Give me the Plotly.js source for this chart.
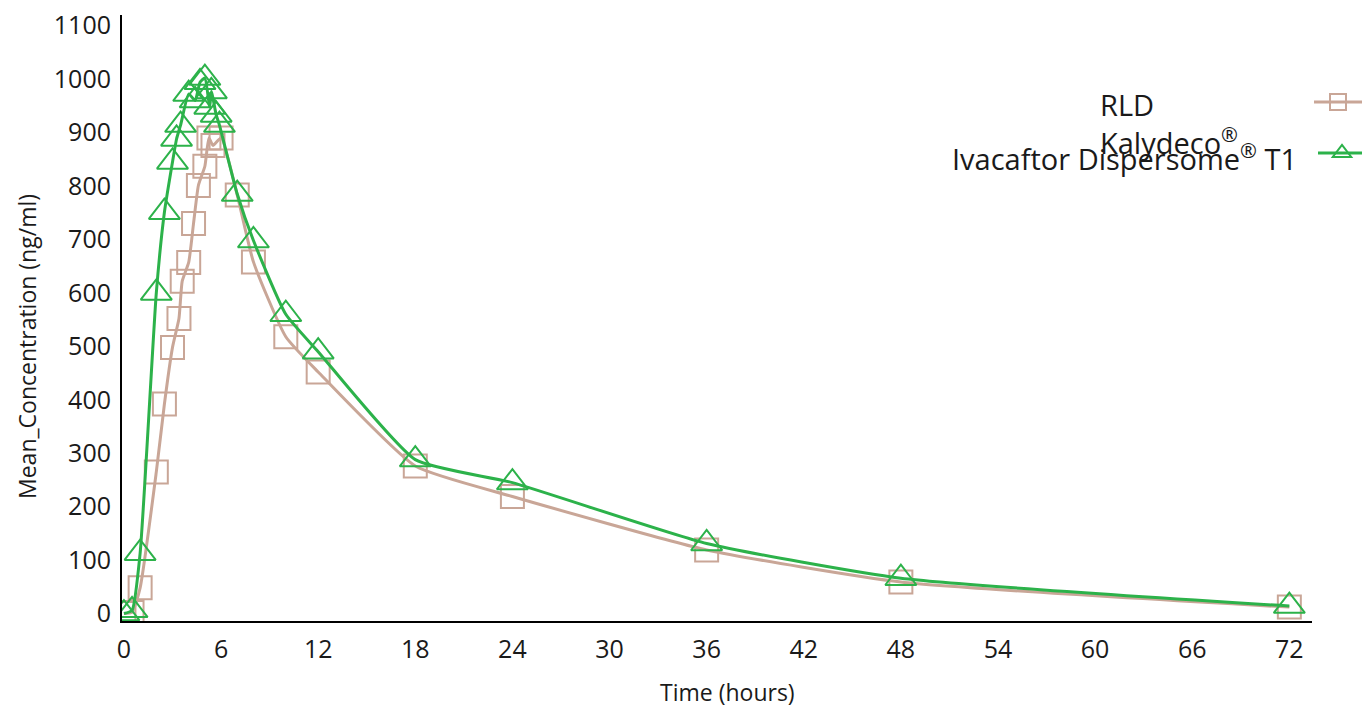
<!DOCTYPE html>
<html>
<head>
<meta charset="utf-8">
<script src="https://cdn.plot.ly/plotly-3.0.1.min.js"></script>
<style>html,body{margin:0;padding:0;background:#fff;}#chart{width:1362px;height:709px;}</style>
</head>
<body>
<div id="chart"></div>
<script>
// Time (hours) and mean concentration (ng/ml)
const rldTime = [0, 0.5, 1, 2, 2.5, 3, 3.4, 3.6, 4, 4.3, 4.6, 5, 5.25, 5.5, 6, 7, 8, 10, 12, 18, 24, 36, 48, 72];
const rldConc = [0, 2, 48, 265, 392, 498, 552, 622, 657, 730, 801, 837, 890, 876, 890, 783, 658, 518, 452, 276, 219, 119, 59, 12];

const t1Time = [0, 0.5, 1, 2, 2.5, 3, 3.25, 3.5, 4, 4.4, 4.7, 5, 5.3, 5.4, 5.7, 5.9, 7, 8, 10, 12, 18, 24, 36, 48, 72];
const t1Conc = [0, 6, 113, 600, 751, 845, 888, 914, 972, 960, 994, 1002, 948, 977, 933, 914, 785, 698, 560, 490, 288, 245, 131, 66, 14];

const xTicks = [0, 6, 12, 18, 24, 30, 36, 42, 48, 54, 60, 66, 72];
const yTicks = [0, 100, 200, 300, 400, 500, 600, 700, 800, 900, 1000, 1100];

const seriesNames = ["RLD<br>Kalydeco<sup>®</sup>", "Ivacaftor Dispersome<sup>®</sup> T1"];
const xTitle = "Time (hours)";
const yTitle = "Mean_Concentration (ng/ml)";

const BROWN = "rgb(201,166,151)";
const GREEN = "rgb(44,178,74)";
const FONT = "Open Sans, Noto Sans, sans-serif";
const TXT = "#1a1a1a";

// plot area in pixels
const L = 122, R = 1312, T = 15, B = 621;
const px2x = p => (p - L) / (R - L);
const px2y = p => (B - p) / (B - T);

const traces = [
  {
    x: rldTime, y: rldConc, type: "scatter", mode: "lines+markers",
    name: "", legend: "legend", showlegend: true,
    line: {color: BROWN, width: 3, shape: "spline", smoothing: 0.5},
    marker: {symbol: "square-open", size: 23, color: BROWN, line: {color: BROWN, width: 2}},
    hoverinfo: "x+y"
  },
  {
    x: t1Time, y: t1Conc, type: "scatter", mode: "lines+markers",
    name: "", legend: "legend2", showlegend: true,
    line: {color: GREEN, width: 3, shape: "spline", smoothing: 0.5},
    marker: {symbol: "triangle-up-open", size: 27, color: GREEN, line: {color: GREEN, width: 2}},
    hoverinfo: "x+y"
  }
];

const layout = {
  width: 1362, height: 709,
  margin: {l: L, r: 1362 - R, t: T, b: 709 - B, pad: 0, autoexpand: false},
  paper_bgcolor: "#fff", plot_bgcolor: "#fff",
  font: {family: FONT, color: TXT},
  xaxis: {
    range: [-0.12, 73.4], tickvals: xTicks, ticktext: xTicks.map(String),
    showgrid: false, zeroline: false, showline: true, linecolor: "#000", linewidth: 2,
    ticks: "", tickfont: {size: 25, family: FONT, color: TXT}, ticklabelstandoff: 5
  },
  yaxis: {
    range: [-14, 1120], tickvals: yTicks, ticktext: yTicks.map(String),
    showgrid: false, zeroline: false, showline: true, linecolor: "#000", linewidth: 2,
    ticks: "", tickfont: {size: 25, family: FONT, color: TXT}, ticklabelstandoff: 4
  },
  legend: {
    x: px2x(1309), y: px2y(102), xanchor: "left", yanchor: "middle",
    bgcolor: "rgba(0,0,0,0)", borderwidth: 0, itemwidth: 48,
    font: {size: 20, family: FONT}
  },
  legend2: {
    x: px2x(1313), y: px2y(153), xanchor: "left", yanchor: "middle",
    bgcolor: "rgba(0,0,0,0)", borderwidth: 0, itemwidth: 48,
    font: {size: 20, family: FONT}
  },
  annotations: [
    {xref: "paper", yref: "paper", x: px2x(1098), y: px2y(83), xanchor: "left", yanchor: "top",
     align: "left", showarrow: false, text: seriesNames[0], font: {size: 29, family: FONT, color: TXT}},
    {xref: "paper", yref: "paper", x: px2x(1299), y: px2y(157), xanchor: "right", yanchor: "middle",
     align: "right", showarrow: false, text: seriesNames[1], font: {size: 29, family: FONT, color: TXT}},
    {xref: "paper", yref: "paper", x: px2x(727), y: px2y(692), xanchor: "center", yanchor: "middle",
     showarrow: false, text: xTitle, font: {size: 23, family: FONT, color: TXT}},
    {xref: "paper", yref: "paper", x: px2x(27), y: px2y(347), xanchor: "center", yanchor: "middle",
     textangle: -90, showarrow: false, text: yTitle, font: {size: 23, family: FONT, color: TXT}}
  ],
  showlegend: true
};

Plotly.newPlot("chart", traces, layout, {displayModeBar: false, staticPlot: true});
</script>
</body>
</html>
